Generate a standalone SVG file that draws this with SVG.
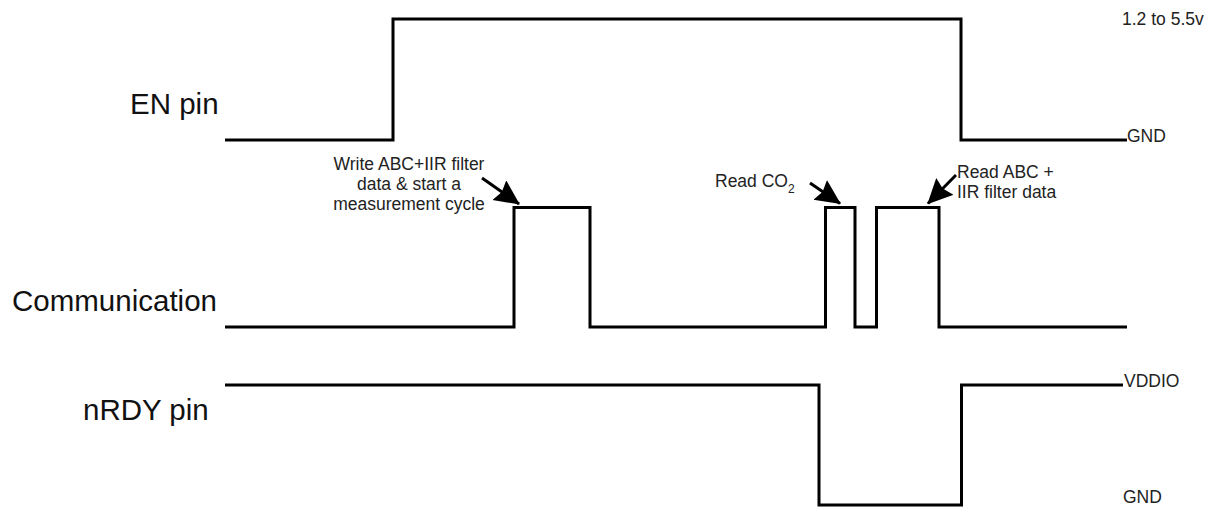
<svg xmlns="http://www.w3.org/2000/svg" width="1214" height="508" viewBox="0 0 1214 508">
  <style>
    .wave { fill: none; stroke: #000; stroke-width: 3; stroke-linejoin: miter; }
    .big { font-family: "Liberation Sans", Arial, sans-serif; font-size: 29.5px; fill: #111; }
    .small { font-family: "Liberation Sans", Arial, sans-serif; font-size: 17.5px; fill: #222; }
    .sub { font-size: 12px; }
    .arrow { fill: none; stroke: #000; stroke-width: 3; marker-end: url(#head); }
  </style>
  <defs>
    <marker id="head" markerUnits="userSpaceOnUse" markerWidth="28" markerHeight="26" refX="24" refY="12" orient="auto">
      <path d="M0,0 L25,12 L0,24 L3,12 z" fill="#000"/>
    </marker>
  </defs>
  <rect width="1214" height="508" fill="#fff"/>

  <g id="en-pin">
    <text class="big" x="130" y="114">EN pin</text>
    <polyline class="wave" points="225,140 393,140 393,19 961,19 961,140 1127,140"/>
    <text class="small" x="1122" y="25">1.2 to 5.5v</text>
    <text class="small" x="1127" y="142">GND</text>
  </g>

  <g id="communication">
    <text class="big" x="12" y="311">Communication</text>
    <polyline class="wave" points="225,327 514,327 514,207.5 590,207.5 590,327 825.5,327 825.5,207.5 855,207.5 855,327 876.5,327 876.5,207.5 939,207.5 939,327 1127,327"/>
  </g>

  <g id="nrdy-pin">
    <text class="big" x="83" y="420">nRDY pin</text>
    <polyline class="wave" points="225,385 819,385 819,505 961.5,505 961.5,385 1123,385"/>
    <text class="small" x="1124" y="387">VDDIO</text>
    <text class="small" x="1123" y="503">GND</text>
  </g>

  <g id="note-write">
    <text class="small" text-anchor="middle" x="409" y="170">Write ABC+IIR filter</text>
    <text class="small" text-anchor="middle" x="409" y="190">data &amp; start a</text>
    <text class="small" text-anchor="middle" x="409" y="210">measurement cycle</text>
  </g>

  <g id="note-read-co2">
    <text class="small" x="715" y="187">Read CO<tspan class="sub" dy="6">2</tspan></text>
  </g>

  <g id="note-read-abc">
    <text class="small" x="957" y="178">Read ABC +</text>
    <text class="small" x="957" y="198">IIR filter data</text>
  </g>

  <g id="connectors">
    <line class="arrow" x1="482" y1="178" x2="519" y2="204"/>
    <line class="arrow" x1="810" y1="183" x2="840" y2="203.5"/>
    <line class="arrow" x1="956" y1="175" x2="928" y2="203.5"/>
  </g>
</svg>
